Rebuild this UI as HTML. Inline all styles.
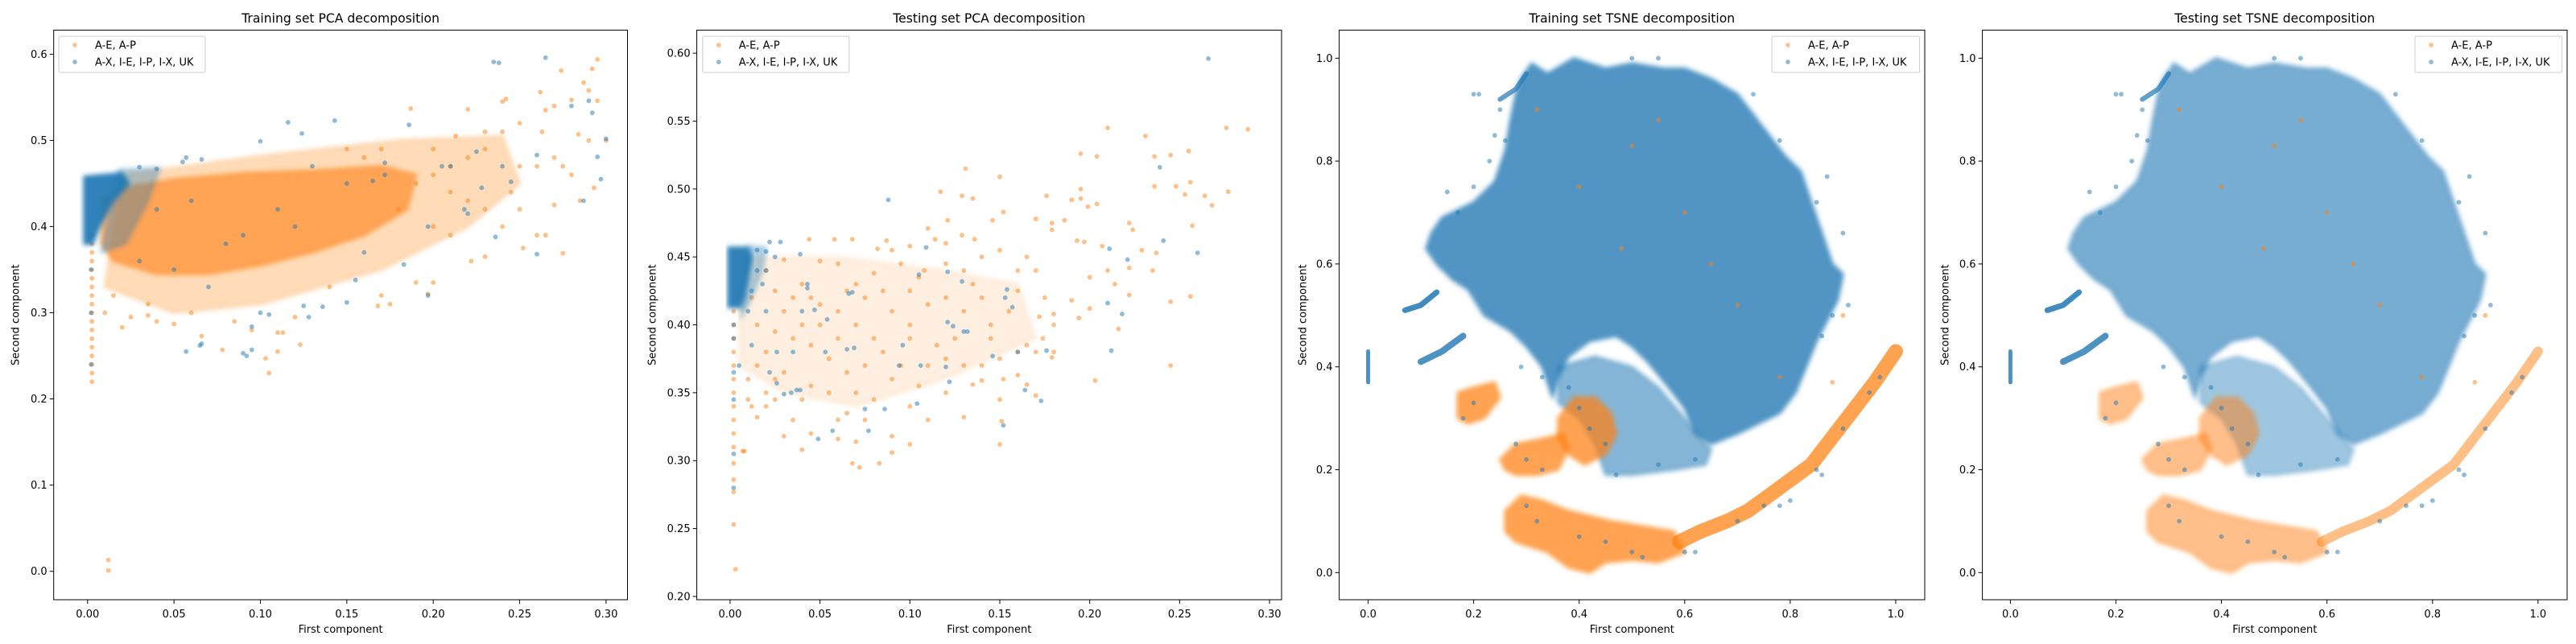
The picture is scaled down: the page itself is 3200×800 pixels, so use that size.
<!DOCTYPE html>
<html><head><meta charset="utf-8">
<style>
html,body{margin:0;padding:0;background:#fff;}
svg{display:block;font-family:"DejaVu Sans","Liberation Sans",sans-serif;}
</style></head>
<body>
<svg id="fig" width="3200" height="800" viewBox="0 0 3200 800" xmlns="http://www.w3.org/2000/svg">
<defs><filter id="soft" x="-10%" y="-10%" width="120%" height="120%"><feGaussianBlur stdDeviation="3"/></filter></defs>
</svg>
<script>
// ---------- DATA ----------
const seriesNames = ["A-E, A-P", "A-X, I-E, I-P, I-X, UK"];
const titles = ["Training set PCA decomposition","Testing set PCA decomposition","Training set TSNE decomposition","Testing set TSNE decomposition"];
const pcaXTicks = [0,0.05,0.10,0.15,0.20,0.25,0.30];
const trainPcaYTicks = [0,0.1,0.2,0.3,0.4,0.5,0.6];
const testPcaYTicks = [0.20,0.25,0.30,0.35,0.40,0.45,0.50,0.55,0.60];
const tsneTicks = [0,0.2,0.4,0.6,0.8,1.0];

// Training PCA
const trPcaOrangeDense = [[0.008,0.43],[0.02,0.445],[0.05,0.455],[0.09,0.462],[0.13,0.465],[0.17,0.47],[0.19,0.46],[0.185,0.42],[0.16,0.39],[0.13,0.37],[0.1,0.355],[0.07,0.345],[0.04,0.345],[0.015,0.36],[0.008,0.38]];
const trPcaOrangeHalo = [[0.02,0.46],[0.1,0.482],[0.18,0.5],[0.24,0.505],[0.25,0.45],[0.22,0.4],[0.17,0.35],[0.1,0.31],[0.05,0.3],[0.01,0.33]];
const trPcaBlueDense = [[-0.002,0.458],[0.02,0.462],[0.024,0.45],[0.015,0.43],[0.007,0.40],[0.003,0.38],[-0.002,0.38]];
const trPcaBlueHalo = [[0.018,0.466],[0.042,0.468],[0.035,0.43],[0.022,0.38],[0.008,0.37]];
const trPcaStripY = [0.22,0.23,0.24,0.25,0.26,0.27,0.28,0.29,0.30,0.31,0.32,0.33,0.34,0.35,0.36,0.37,0.38,0.39];
const trPcaOrangePts = [[0.295,0.594],[0.292,0.583],[0.274,0.581],[0.287,0.567],[0.29,0.558],[0.262,0.556],[0.242,0.548],[0.24,0.545],[0.27,0.54],[0.28,0.547],[0.295,0.546],[0.22,0.536],[0.187,0.537],[0.265,0.535],[0.25,0.52],[0.263,0.51],[0.284,0.507],[0.29,0.5],[0.3,0.5],[0.27,0.48],[0.275,0.47],[0.28,0.46],[0.26,0.47],[0.25,0.47],[0.23,0.49],[0.24,0.51],[0.23,0.51],[0.213,0.505],[0.22,0.48],[0.2,0.46],[0.21,0.44],[0.22,0.43],[0.23,0.42],[0.245,0.44],[0.26,0.39],[0.252,0.375],[0.275,0.369],[0.265,0.39],[0.27,0.425],[0.285,0.43],[0.293,0.445],[0.222,0.36],[0.23,0.365],[0.2,0.335],[0.19,0.335],[0.197,0.322],[0.175,0.31],[0.168,0.308],[0.17,0.32],[0.14,0.33],[0.12,0.295],[0.123,0.263],[0.11,0.255],[0.105,0.23],[0.103,0.247],[0.11,0.277],[0.113,0.277],[0.078,0.257],[0.066,0.273],[0.05,0.287],[0.04,0.29],[0.02,0.283],[0.025,0.295],[0.035,0.297],[0.012,0.013],[0.012,0.001],[0.035,0.31],[0.06,0.3],[0.085,0.29],[0.095,0.28],[0.015,0.32],[0.01,0.3],[0.2,0.49],[0.21,0.47],[0.19,0.45],[0.18,0.42],[0.2,0.4],[0.21,0.39],[0.24,0.4],[0.25,0.42],[0.16,0.48],[0.17,0.49],[0.15,0.49]];
const trPcaBluePts = [[0.265,0.596],[0.235,0.591],[0.238,0.59],[0.28,0.54],[0.29,0.546],[0.292,0.532],[0.3,0.502],[0.295,0.481],[0.297,0.455],[0.287,0.43],[0.26,0.483],[0.26,0.368],[0.236,0.388],[0.225,0.487],[0.218,0.42],[0.22,0.415],[0.197,0.4],[0.197,0.32],[0.183,0.356],[0.186,0.518],[0.143,0.523],[0.116,0.521],[0.124,0.508],[0.1,0.499],[0.065,0.262],[0.066,0.264],[0.057,0.255],[0.092,0.25],[0.09,0.253],[0.095,0.257],[0.095,0.284],[0.105,0.298],[0.1,0.3],[0.136,0.307],[0.128,0.295],[0.125,0.308],[0.055,0.475],[0.057,0.48],[0.066,0.478],[0.04,0.467],[0.03,0.469],[0.15,0.312],[0.155,0.338],[0.16,0.37],[0.172,0.46],[0.172,0.474],[0.165,0.453],[0.205,0.47],[0.21,0.47],[0.24,0.47],[0.245,0.452],[0.228,0.445],[0.15,0.45],[0.13,0.47],[0.11,0.42],[0.08,0.38],[0.05,0.35],[0.03,0.36],[0.04,0.42],[0.06,0.43],[0.09,0.39],[0.12,0.4],[0.07,0.33],[0.002,0.24],[0.002,0.3],[0.002,0.35]];

// Testing PCA
const tePcaBlueDense = [[-0.001,0.457],[0.01,0.457],[0.012,0.45],[0.01,0.435],[0.008,0.42],[0.006,0.413],[-0.001,0.413]];
const tePcaBlueHalo = [[0.01,0.458],[0.02,0.457],[0.018,0.44],[0.012,0.42],[0.006,0.405]];
const tePcaOrangeHalo = [[0.005,0.45],[0.06,0.45],[0.12,0.44],[0.16,0.43],[0.17,0.39],[0.12,0.36],[0.07,0.34],[0.03,0.35],[0.005,0.37]];
const tePcaStripY = [0.31,0.32,0.33,0.34,0.35,0.36,0.37,0.38,0.39,0.40,0.41];
const tePcaOrangePts = [[0.21,0.545],[0.276,0.545],[0.288,0.544],[0.231,0.539],[0.236,0.524],[0.245,0.525],[0.255,0.528],[0.195,0.526],[0.204,0.524],[0.131,0.515],[0.15,0.509],[0.256,0.505],[0.236,0.502],[0.248,0.502],[0.264,0.495],[0.277,0.498],[0.268,0.488],[0.253,0.496],[0.117,0.498],[0.129,0.495],[0.135,0.493],[0.176,0.495],[0.195,0.5],[0.195,0.493],[0.199,0.487],[0.204,0.489],[0.19,0.492],[0.257,0.473],[0.224,0.47],[0.222,0.475],[0.17,0.478],[0.152,0.483],[0.146,0.477],[0.121,0.477],[0.11,0.471],[0.12,0.46],[0.129,0.466],[0.136,0.463],[0.179,0.475],[0.186,0.477],[0.179,0.47],[0.193,0.462],[0.197,0.461],[0.207,0.458],[0.229,0.455],[0.237,0.453],[0.2,0.435],[0.21,0.44],[0.214,0.43],[0.222,0.442],[0.235,0.44],[0.256,0.421],[0.245,0.417],[0.222,0.422],[0.19,0.418],[0.194,0.405],[0.2,0.412],[0.18,0.408],[0.18,0.4],[0.172,0.406],[0.174,0.39],[0.165,0.385],[0.16,0.38],[0.17,0.38],[0.18,0.38],[0.179,0.376],[0.203,0.359],[0.245,0.37],[0.216,0.397],[0.15,0.312],[0.151,0.329],[0.152,0.36],[0.16,0.363],[0.165,0.356],[0.17,0.348],[0.14,0.359],[0.135,0.356],[0.13,0.332],[0.1,0.312],[0.09,0.306],[0.09,0.318],[0.083,0.298],[0.068,0.298],[0.072,0.295],[0.07,0.314],[0.06,0.316],[0.06,0.33],[0.04,0.308],[0.045,0.32],[0.035,0.33],[0.03,0.318],[0.02,0.34],[0.015,0.332],[0.012,0.34],[0.008,0.307],[0.01,0.345],[0.02,0.35],[0.025,0.345],[0.044,0.463],[0.058,0.463],[0.068,0.463],[0.087,0.462],[0.082,0.456],[0.1,0.458],[0.09,0.455],[0.114,0.463],[0.108,0.44],[0.095,0.445],[0.08,0.438],[0.06,0.445],[0.05,0.447],[0.03,0.448],[0.02,0.44],[0.04,0.43],[0.065,0.425],[0.075,0.42],[0.09,0.41],[0.1,0.4],[0.11,0.415],[0.12,0.42],[0.13,0.41],[0.14,0.42],[0.145,0.4],[0.155,0.41],[0.16,0.425],[0.125,0.39],[0.115,0.385],[0.1,0.39],[0.085,0.38],[0.075,0.37],[0.065,0.365],[0.055,0.375],[0.045,0.385],[0.035,0.39],[0.025,0.395],[0.015,0.4],[0.02,0.38],[0.03,0.365],[0.045,0.355],[0.055,0.35],[0.07,0.35],[0.08,0.345],[0.09,0.36],[0.105,0.355],[0.11,0.37],[0.12,0.375],[0.13,0.37],[0.14,0.37],[0.095,0.37],[0.05,0.4],[0.06,0.39],[0.07,0.4],[0.08,0.39],[0.04,0.4],[0.03,0.41],[0.05,0.415],[0.06,0.41],[0.07,0.43],[0.085,0.425],[0.1,0.425],[0.105,0.435],[0.012,0.42],[0.025,0.425],[0.035,0.42],[0.045,0.42],[0.015,0.37],[0.01,0.36],[0.025,0.36],[0.04,0.345],[0.065,0.335],[0.075,0.33],[0.1,0.34],[0.12,0.35],[0.15,0.345],[0.11,0.33],[0.145,0.39],[0.15,0.375],[0.175,0.42],[0.16,0.44],[0.165,0.45],[0.17,0.44],[0.15,0.455],[0.14,0.45],[0.13,0.44],[0.135,0.43],[0.12,0.445],[0.003,0.22],[0.002,0.253],[0.002,0.277],[0.002,0.286],[0.002,0.298],[0.007,0.307]];
const tePcaBluePts = [[0.266,0.596],[0.239,0.516],[0.088,0.492],[0.241,0.462],[0.26,0.453],[0.211,0.456],[0.221,0.448],[0.21,0.416],[0.218,0.408],[0.212,0.381],[0.176,0.381],[0.16,0.38],[0.157,0.413],[0.154,0.426],[0.153,0.42],[0.146,0.377],[0.164,0.352],[0.173,0.344],[0.152,0.326],[0.129,0.432],[0.121,0.439],[0.121,0.402],[0.124,0.399],[0.13,0.395],[0.132,0.395],[0.12,0.369],[0.122,0.358],[0.106,0.37],[0.104,0.342],[0.105,0.437],[0.109,0.457],[0.096,0.385],[0.094,0.37],[0.086,0.338],[0.075,0.338],[0.077,0.322],[0.057,0.322],[0.049,0.316],[0.065,0.382],[0.069,0.383],[0.068,0.424],[0.066,0.423],[0.054,0.404],[0.053,0.38],[0.047,0.411],[0.043,0.43],[0.043,0.427],[0.04,0.41],[0.039,0.352],[0.037,0.352],[0.035,0.38],[0.034,0.35],[0.028,0.461],[0.022,0.461],[0.039,0.452],[0.026,0.38],[0.022,0.365],[0.026,0.357],[0.03,0.349],[0.012,0.385],[0.005,0.37],[0.002,0.305],[0.002,0.28],[0.015,0.455],[0.02,0.454],[0.025,0.45],[0.02,0.44],[0.015,0.44],[0.018,0.43],[0.012,0.425],[0.01,0.41],[0.02,0.41],[0.002,0.4],[0.002,0.39],[0.002,0.365],[0.002,0.345]];

// TSNE (shared shape for train/test)
const tsneBlueCloud = [[0.11,0.63],[0.12,0.66],[0.14,0.69],[0.2,0.72],[0.24,0.76],[0.26,0.82],[0.27,0.88],[0.28,0.93],[0.29,0.96],[0.31,0.99],[0.34,0.97],[0.39,1.0],[0.45,0.98],[0.5,0.99],[0.56,0.98],[0.6,0.98],[0.65,0.96],[0.7,0.93],[0.73,0.89],[0.76,0.85],[0.79,0.81],[0.82,0.78],[0.84,0.72],[0.86,0.66],[0.88,0.6],[0.9,0.58],[0.89,0.53],[0.87,0.49],[0.85,0.45],[0.83,0.4],[0.81,0.35],[0.78,0.31],[0.74,0.29],[0.7,0.27],[0.65,0.25],[0.62,0.27],[0.6,0.32],[0.57,0.36],[0.53,0.41],[0.5,0.44],[0.47,0.46],[0.42,0.45],[0.38,0.42],[0.36,0.38],[0.35,0.34],[0.33,0.4],[0.3,0.44],[0.27,0.47],[0.22,0.5],[0.19,0.55],[0.16,0.57],[0.13,0.6]];
const tsneBlueLower = [[0.36,0.4],[0.43,0.42],[0.5,0.4],[0.55,0.36],[0.6,0.3],[0.65,0.24],[0.64,0.21],[0.58,0.2],[0.5,0.19],[0.45,0.19],[0.43,0.25],[0.4,0.3],[0.36,0.33]];
const tsneBlueArmA = [[0.07,0.51],[0.1,0.52],[0.13,0.545]];
const tsneBlueArmB = [[0.1,0.41],[0.14,0.43],[0.18,0.46]];
const tsneBlueArmC = [[0.0,0.37],[0.0,0.43]];
const tsneBlueArmD = [[0.25,0.92],[0.28,0.94],[0.3,0.97]];
const tsneOrangeA = [[0.17,0.35],[0.2,0.36],[0.24,0.37],[0.25,0.34],[0.22,0.3],[0.19,0.29],[0.17,0.3]];
const tsneOrangeB = [[0.25,0.22],[0.28,0.25],[0.33,0.26],[0.37,0.27],[0.38,0.24],[0.36,0.2],[0.32,0.19],[0.28,0.19],[0.26,0.2]];
const tsneOrangeC = [[0.36,0.3],[0.39,0.34],[0.43,0.34],[0.46,0.31],[0.47,0.27],[0.45,0.23],[0.41,0.21],[0.38,0.23],[0.36,0.26]];
const tsneOrangeBand = [[0.26,0.12],[0.29,0.15],[0.33,0.14],[0.38,0.12],[0.42,0.11],[0.46,0.1],[0.52,0.09],[0.58,0.08],[0.6,0.04],[0.55,0.02],[0.5,0.025],[0.45,0.02],[0.42,0.0],[0.38,0.01],[0.34,0.04],[0.28,0.06],[0.26,0.08]];
const tsneOrangeArc = [[0.59,0.06],[0.63,0.08],[0.68,0.1],[0.72,0.12],[0.76,0.15],[0.8,0.18],[0.84,0.21],[0.87,0.25],[0.9,0.29],[0.93,0.33],[0.96,0.37],[0.98,0.4],[1.0,0.43]];
const tsneBlueInOrange = [[0.3,0.13],[0.32,0.1],[0.4,0.07],[0.45,0.06],[0.5,0.04],[0.6,0.04],[0.7,0.1],[0.75,0.13],[0.8,0.14],[0.85,0.2],[0.9,0.28],[0.95,0.35],[0.3,0.22],[0.33,0.2],[0.28,0.25],[0.2,0.33],[0.18,0.3],[0.42,0.28],[0.4,0.32],[0.45,0.25],[0.52,0.03],[0.62,0.04],[0.78,0.13],[0.86,0.19],[0.97,0.38]];
const tsneBlueOuter = [[0.9,0.66],[0.91,0.52],[0.87,0.77],[0.85,0.72],[0.78,0.84],[0.73,0.93],[0.55,1.0],[0.5,1.0],[0.15,0.74],[0.23,0.8],[0.26,0.84],[0.25,0.9],[0.2,0.75],[0.17,0.7],[0.88,0.5],[0.86,0.46],[0.62,0.22],[0.55,0.21],[0.47,0.19],[0.38,0.36],[0.33,0.38],[0.29,0.4],[0.2,0.93],[0.21,0.93],[0.24,0.85]];
const tsneOrangeStray = [[0.55,0.88],[0.5,0.83],[0.4,0.75],[0.6,0.7],[0.65,0.6],[0.48,0.63],[0.7,0.52],[0.9,0.5],[0.88,0.37],[0.78,0.38],[0.32,0.9]];

// ---------- RENDER ----------
const NS = "http://www.w3.org/2000/svg";
const svg = document.getElementById("fig");
const ORANGE = "#ff7f0e", BLUE = "#1f77b4";
function mk(tag, attrs, parent){ const e=document.createElementNS(NS,tag); for(const k in attrs) e.setAttribute(k,attrs[k]); (parent||svg).appendChild(e); return e; }

const panels = [
 {left:66.7,right:779.5,top:37.4,bottom:745,xmin:-0.0196,xmax:0.3124,ymin:-0.033,ymax:0.628,xt:pcaXTicks,xd:2,yt:trainPcaYTicks,yd:1,ylabX:19,leg:[73,45,182]},
 {left:865.6,right:1592,top:37.4,bottom:745,xmin:-0.0185,xmax:0.3067,ymin:0.1976,ymax:0.617,xt:pcaXTicks,xd:2,yt:testPcaYTicks,yd:2,ylabX:810,leg:[872.8,45,182]},
 {left:1663.6,right:2391,top:37.4,bottom:745,xmin:-0.0548,xmax:1.055,ymin:-0.0527,ymax:1.0546,xt:tsneTicks,xd:1,yt:tsneTicks,yd:1,ylabX:1618,leg:[2201,45,183.6]},
 {left:2462.6,right:3189,top:37.4,bottom:745,xmin:-0.0531,xmax:1.0552,ymin:-0.0527,ymax:1.0546,xt:tsneTicks,xd:1,yt:tsneTicks,yd:1,ylabX:2416,leg:[3000,45,182.6]}
];

function scales(p){
  return {
    x: v => p.left + (v-p.xmin)/(p.xmax-p.xmin)*(p.right-p.left),
    y: v => p.bottom - (v-p.ymin)/(p.ymax-p.ymin)*(p.bottom-p.top)
  };
}
function poly(g,s,pts,color,op,name){
  const e=mk("polygon",{points:pts.map(d=>s.x(d[0])+","+s.y(d[1])).join(" "),fill:color,"fill-opacity":op,stroke:color,"stroke-opacity":op*0.6,"stroke-width":4,"stroke-linejoin":"round",filter:"url(#soft)"},g);
  
  
}
function line(g,s,pts,color,op,w,name){
  const e=mk("polyline",{points:pts.map(d=>s.x(d[0])+","+s.y(d[1])).join(" "),fill:"none",stroke:color,"stroke-opacity":op,"stroke-width":w,"stroke-linecap":"round","stroke-linejoin":"round"},g);
  
  
}
function dots(g,s,pts,color,name){
  pts.forEach(d=>{
    const c=mk("circle",{cx:s.x(d[0]),cy:s.y(d[1]),r:2.9,fill:color,"fill-opacity":0.5},g);
    
    
  });
}

panels.forEach((p,i)=>{
  const s=scales(p);
  const g=mk("g",{});
  
  
  const cid="clip"+i;
  const cp=mk("clipPath",{id:cid},g); mk("rect",{x:p.left,y:p.top,width:p.right-p.left,height:p.bottom-p.top},cp);
  const plot=mk("g",{"clip-path":"url(#"+cid+")"},g);
  
  

  if(i===0){
    poly(plot,s,trPcaOrangeHalo,ORANGE,0.28,'orange-sparse-region');
    poly(plot,s,trPcaOrangeDense,ORANGE,0.6,'orange-dense-cloud');
    dots(plot,s,trPcaOrangePts,ORANGE,'orange-point');
    dots(plot,s,trPcaStripY.map(y=>[0.0025,y]),ORANGE,'orange-strip-point');
    poly(plot,s,trPcaBlueHalo,BLUE,0.35,'blue-sparse-region');
    poly(plot,s,trPcaBlueDense,BLUE,0.92,'blue-dense-cluster');
    dots(plot,s,trPcaBluePts,BLUE,'blue-point');
  } else if(i===1){
    poly(plot,s,tePcaOrangeHalo,ORANGE,0.12,'orange-sparse-region');
    dots(plot,s,tePcaOrangePts,ORANGE,'orange-point');
    dots(plot,s,tePcaStripY.map(y=>[0.002,y]),ORANGE,'orange-strip-point');
    poly(plot,s,tePcaBlueHalo,BLUE,0.35,'blue-sparse-region');
    poly(plot,s,tePcaBlueDense,BLUE,0.92,'blue-dense-cluster');
    dots(plot,s,tePcaBluePts,BLUE,'blue-point');
  } else {
    const train = i===2;
    const bo = train?0.78:0.6, oo = train?0.72:0.5, aw = train?18:12;
    poly(plot,s,tsneBlueCloud,BLUE,bo,'blue-main-cloud');
    poly(plot,s,tsneBlueLower,BLUE,bo*0.7,'blue-lower-region');
    line(plot,s,tsneBlueArmA,BLUE,0.85,7,'blue-arm');
    line(plot,s,tsneBlueArmB,BLUE,0.8,8,'blue-arm');
    line(plot,s,tsneBlueArmC,BLUE,0.8,5,'blue-arm');
    line(plot,s,tsneBlueArmD,BLUE,0.7,6,'blue-arm');
    dots(plot,s,tsneBlueOuter,BLUE,'blue-point');
    poly(plot,s,tsneOrangeA,ORANGE,oo,'orange-cluster');
    poly(plot,s,tsneOrangeB,ORANGE,oo,'orange-cluster');
    poly(plot,s,tsneOrangeC,ORANGE,oo,'orange-cluster');
    poly(plot,s,tsneOrangeBand,ORANGE,oo,'orange-bottom-band');
    line(plot,s,tsneOrangeArc,ORANGE,oo,aw,'orange-arc');
    dots(plot,s,tsneBlueInOrange,BLUE,'blue-point');
    dots(plot,s,tsneOrangeStray,ORANGE,'orange-point');
  }

  const fr=mk("rect",{x:p.left,y:p.top,width:p.right-p.left,height:p.bottom-p.top,fill:"none",stroke:"#000","stroke-width":1},g);
  
  

  p.xt.forEach(v=>{
    const x=s.x(v);
    mk("line",{x1:x,x2:x,y1:p.bottom,y2:p.bottom+5,stroke:"#000","stroke-width":1},g);
    const t=mk("text",{x:x,y:767,"font-size":13,"text-anchor":"middle",fill:"#000"},g);
    t.textContent=v.toFixed(p.xd);
    
    
  });
  p.yt.forEach(v=>{
    const y=s.y(v);
    mk("line",{x1:p.left-5,x2:p.left,y1:y,y2:y,stroke:"#000","stroke-width":1},g);
    const t=mk("text",{x:p.left-8,y:y+4.5,"font-size":13,"text-anchor":"end",fill:"#000"},g);
    t.textContent=v.toFixed(p.yd);
    
    
  });
  const cx=(p.left+p.right)/2;
  const tt=mk("text",{x:cx,y:28,"font-size":15.6,"text-anchor":"middle",fill:"#000"},g);
  tt.textContent=titles[i];
  
  
  const xl=mk("text",{x:cx,y:786,"font-size":13,"text-anchor":"middle",fill:"#000"},g);
  xl.textContent="First component";
  
  
  const cy=(p.top+p.bottom)/2;
  const yl=mk("text",{x:p.ylabX,y:cy,"font-size":13,"text-anchor":"middle",fill:"#000",transform:"rotate(-90 "+p.ylabX+" "+cy+") translate(0 4.5)"},g);
  yl.textContent="Second component";
  
  

  const [lx,ly,lw]=p.leg;
  const lg=mk("g",{},g);
  
  
  mk("rect",{x:lx,y:ly,width:lw,height:45,rx:2,fill:"#fff","fill-opacity":0.8,stroke:"#ccc","stroke-width":1},lg);
  [ORANGE,BLUE].forEach((c,k)=>{
    const row=mk("g",{},lg);
    
    
    mk("circle",{cx:lx+20,cy:ly+11+k*21,r:2.9,fill:c,"fill-opacity":0.5},row);
    const t=mk("text",{x:lx+45,y:ly+15.5+k*21,"font-size":13,fill:"#000"},row);
    t.textContent=seriesNames[k];
  });
});
</script>
</body></html>
